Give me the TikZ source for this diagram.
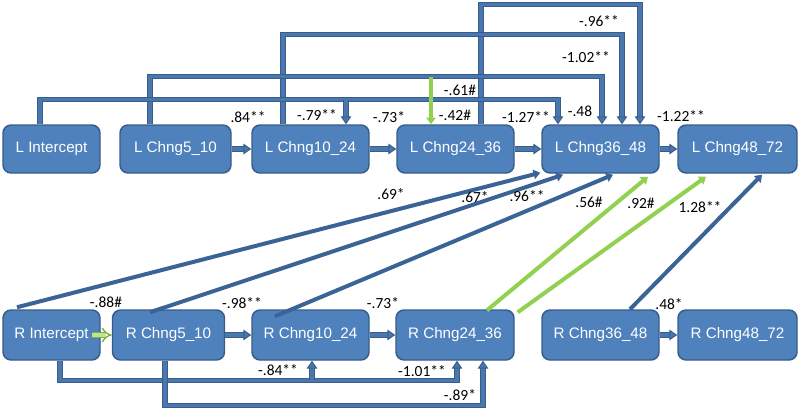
\documentclass[tikz,border=0pt]{standalone}
\usepackage{fontspec}
\setmainfont{Liberation Sans}
\newfontfamily\labfont{Carlito}
\usetikzlibrary{arrows.meta,calc}
\definecolor{bfill}{HTML}{4F81BD}
\definecolor{bline}{HTML}{385D8A}
\definecolor{cline}{HTML}{4A77AE}
\definecolor{cdark}{HTML}{3A6496}
\definecolor{gcol}{HTML}{92D050}
\begin{document}
\begin{tikzpicture}[x=0.75pt,y=-0.75pt,
  box/.style={draw=bline, line width=1.1pt, fill=bfill, rounded corners=6pt,
    text=white, font=\fontsize{11.4pt}{13pt}\selectfont, inner sep=0pt,
    minimum height=36pt},
  rbox/.style={box, minimum height=37.5pt},
  lab/.style={font=\labfont\fontsize{11.6pt}{13pt}\selectfont, inner sep=0pt, text=black},
  conn/.style={draw=bline, line width=0.8pt, double=cline, double distance=2.4pt,
    -{Triangle[length=6pt,width=8pt,fill=cline]}},
  hconn/.style={conn},
  diag/.style={draw=cdark, line width=3pt, -{Triangle[length=5pt,width=7pt]}},
  gdiag/.style={draw=gcol, line width=3pt, -{Triangle[length=5pt,width=7pt]}},
  gdown/.style={draw=gcol, line width=3pt, -{Triangle[length=5pt,width=7pt]}},
  ghollow/.style={draw=gcol!85!black, line width=1pt, double=gcol!60!white, double distance=2.8pt, -{Implies}},
]
\path[fill=white] (0,0) rectangle (800,414);
\useasboundingbox (0,0) rectangle (800,414);

% top row
\node[box, minimum width=72.75pt] (LI)  at (51.5,149)  {L Intercept};
\node[box, minimum width=83.25pt] (L5)  at (175.5,149) {L Chng5\_10};
\node[box, minimum width=87.75pt] (L10) at (310.5,149) {L Chng10\_24};
\node[box, minimum width=87.75pt] (L24) at (455.5,149) {L Chng24\_36};
\node[box, minimum width=87.75pt] (L36) at (600.5,149) {L Chng36\_48};
\node[box, minimum width=89.25pt] (L48) at (737.5,149) {L Chng48\_72};

% bottom row
\node[rbox, minimum width=72.75pt] (RI)  at (51.5,335)  {R Intercept};
\node[rbox, minimum width=84pt]    (R5)  at (168.5,335) {R Chng5\_10};
\node[rbox, minimum width=87.75pt] (R10) at (310.5,335) {R Chng10\_24};
\node[rbox, minimum width=88.5pt]  (R24) at (455,335)   {R Chng24\_36};
\node[rbox, minimum width=87.75pt] (R36) at (600.5,335) {R Chng36\_48};
\node[rbox, minimum width=89.25pt] (R48) at (737.5,335) {R Chng48\_72};

% top elbow connectors
\draw[conn] ($(L24.north)+(25.5,0)$) -- ++(0,-120) -| ($(L36.north)+(39.5,0)$);
\draw[conn] ($(L10.north)+(-27.5,0)$) -- ++(0,-90) -| ($(L36.north)+(21.5,0)$);
\draw[conn] ($(L5.north)+(-25.5,0)$) -- ++(0,-48) -| ($(L36.north)+(1.5,0)$);
\draw[conn] ($(LI.north)+(-11.5,0)$) -- ++(0,-25) -| ($(L36.north)+(-42.5,0)$);
\coordinate (j1) at (346,100);
\draw[conn] (j1) -- (j1 |- L10.north);
\coordinate (j2) at (431,77);
\draw[gdown] (j2) -- (j2 |- L24.north);

% top row horizontal arrows
\draw[hconn] (L5) -- (L10);
\draw[hconn] (L10) -- (L24);
\draw[hconn] (L24) -- (L36);
\draw[hconn] (L36) -- (L48);

% bottom row horizontal arrows
\draw[ghollow] ($(RI.east)+(-9,0)$) -- (R5.west);
\draw[hconn] (R5) -- (R10);
\draw[hconn] (R10) -- (R24);
\draw[hconn] (R36) -- (R48);

% bottom elbow connectors
\draw[conn] ($(RI.south)+(8.5,0)$) -- ++(0,20) -| ($(R24.south)+(2,0)$);
\coordinate (j3) at (312,380);
\draw[conn] (j3) -- (j3 |- R10.south);
\draw[conn] ($(R5.south)+(-3.5,0)$) -- ++(0,45) -| ($(R24.south)+(28,0)$);

% diagonals
\draw[diag] ($(RI.north)+(-34.5,-2)$) -- ($(L36.south west)+(-1,-1)$);
\draw[diag] ($(R5.north)+(-18.5,3)$) -- ($(L36.south)+(-37.5,1)$);
\draw[diag] ($(R10.north)+(-35.5,7)$) -- ($(L36.south)+(12.5,1)$);
\draw[gdiag] ($(R24.north)+(32,1)$) -- ($(L36.south)+(47.5,3)$);
\draw[gdiag] ($(R24.north east)+(3,3)$) -- ($(L48.south)+(-31.5,3)$);
\draw[diag] ($(R36.north)+(29.5,0)$) -- ($(L48.south)+(24.5,1)$);

% labels
\node[lab] (t1)  at (248,117) {.84**};
\node[lab] (t2)  at (317,115) {-.79**};
\node[lab] (t3)  at (389,117) {-.73*};
\node[lab] (t4)  at (460,90)  {-.61\#};
\node[lab] (t5)  at (455,115) {-.42\#};
\node[lab] (t6)  at (526,117) {-1.27**};
\node[lab] (t7)  at (580,111) {-.48};
\node[lab] (t8)  at (586,57)  {-1.02**};
\node[lab] (t9)  at (599,21)  {-.96**};
\node[lab] (t10) at (681,116) {-1.22**};
\node[lab] (t11) at (391,194) {.69*};
\node[lab] (t12) at (475,197) {.67*};
\node[lab] (t13) at (527,196) {.96**};
\node[lab] (t14) at (589,202) {.56\#};
\node[lab] (t15) at (641,203) {.92\#};
\node[lab] (t16) at (700,207) {1.28**};
\node[lab] (t17) at (106,302) {-.88\#};
\node[lab] (t18) at (242,303) {-.98**};
\node[lab] (t19) at (383,303) {-.73*};
\node[lab] (t20) at (669,304) {.48*};
\node[lab] (t21) at (278,370) {-.84**};
\node[lab] (t22) at (422,371) {-1.01**};
\node[lab] (t23) at (460,395) {-.89*};
\end{tikzpicture}
\end{document}
